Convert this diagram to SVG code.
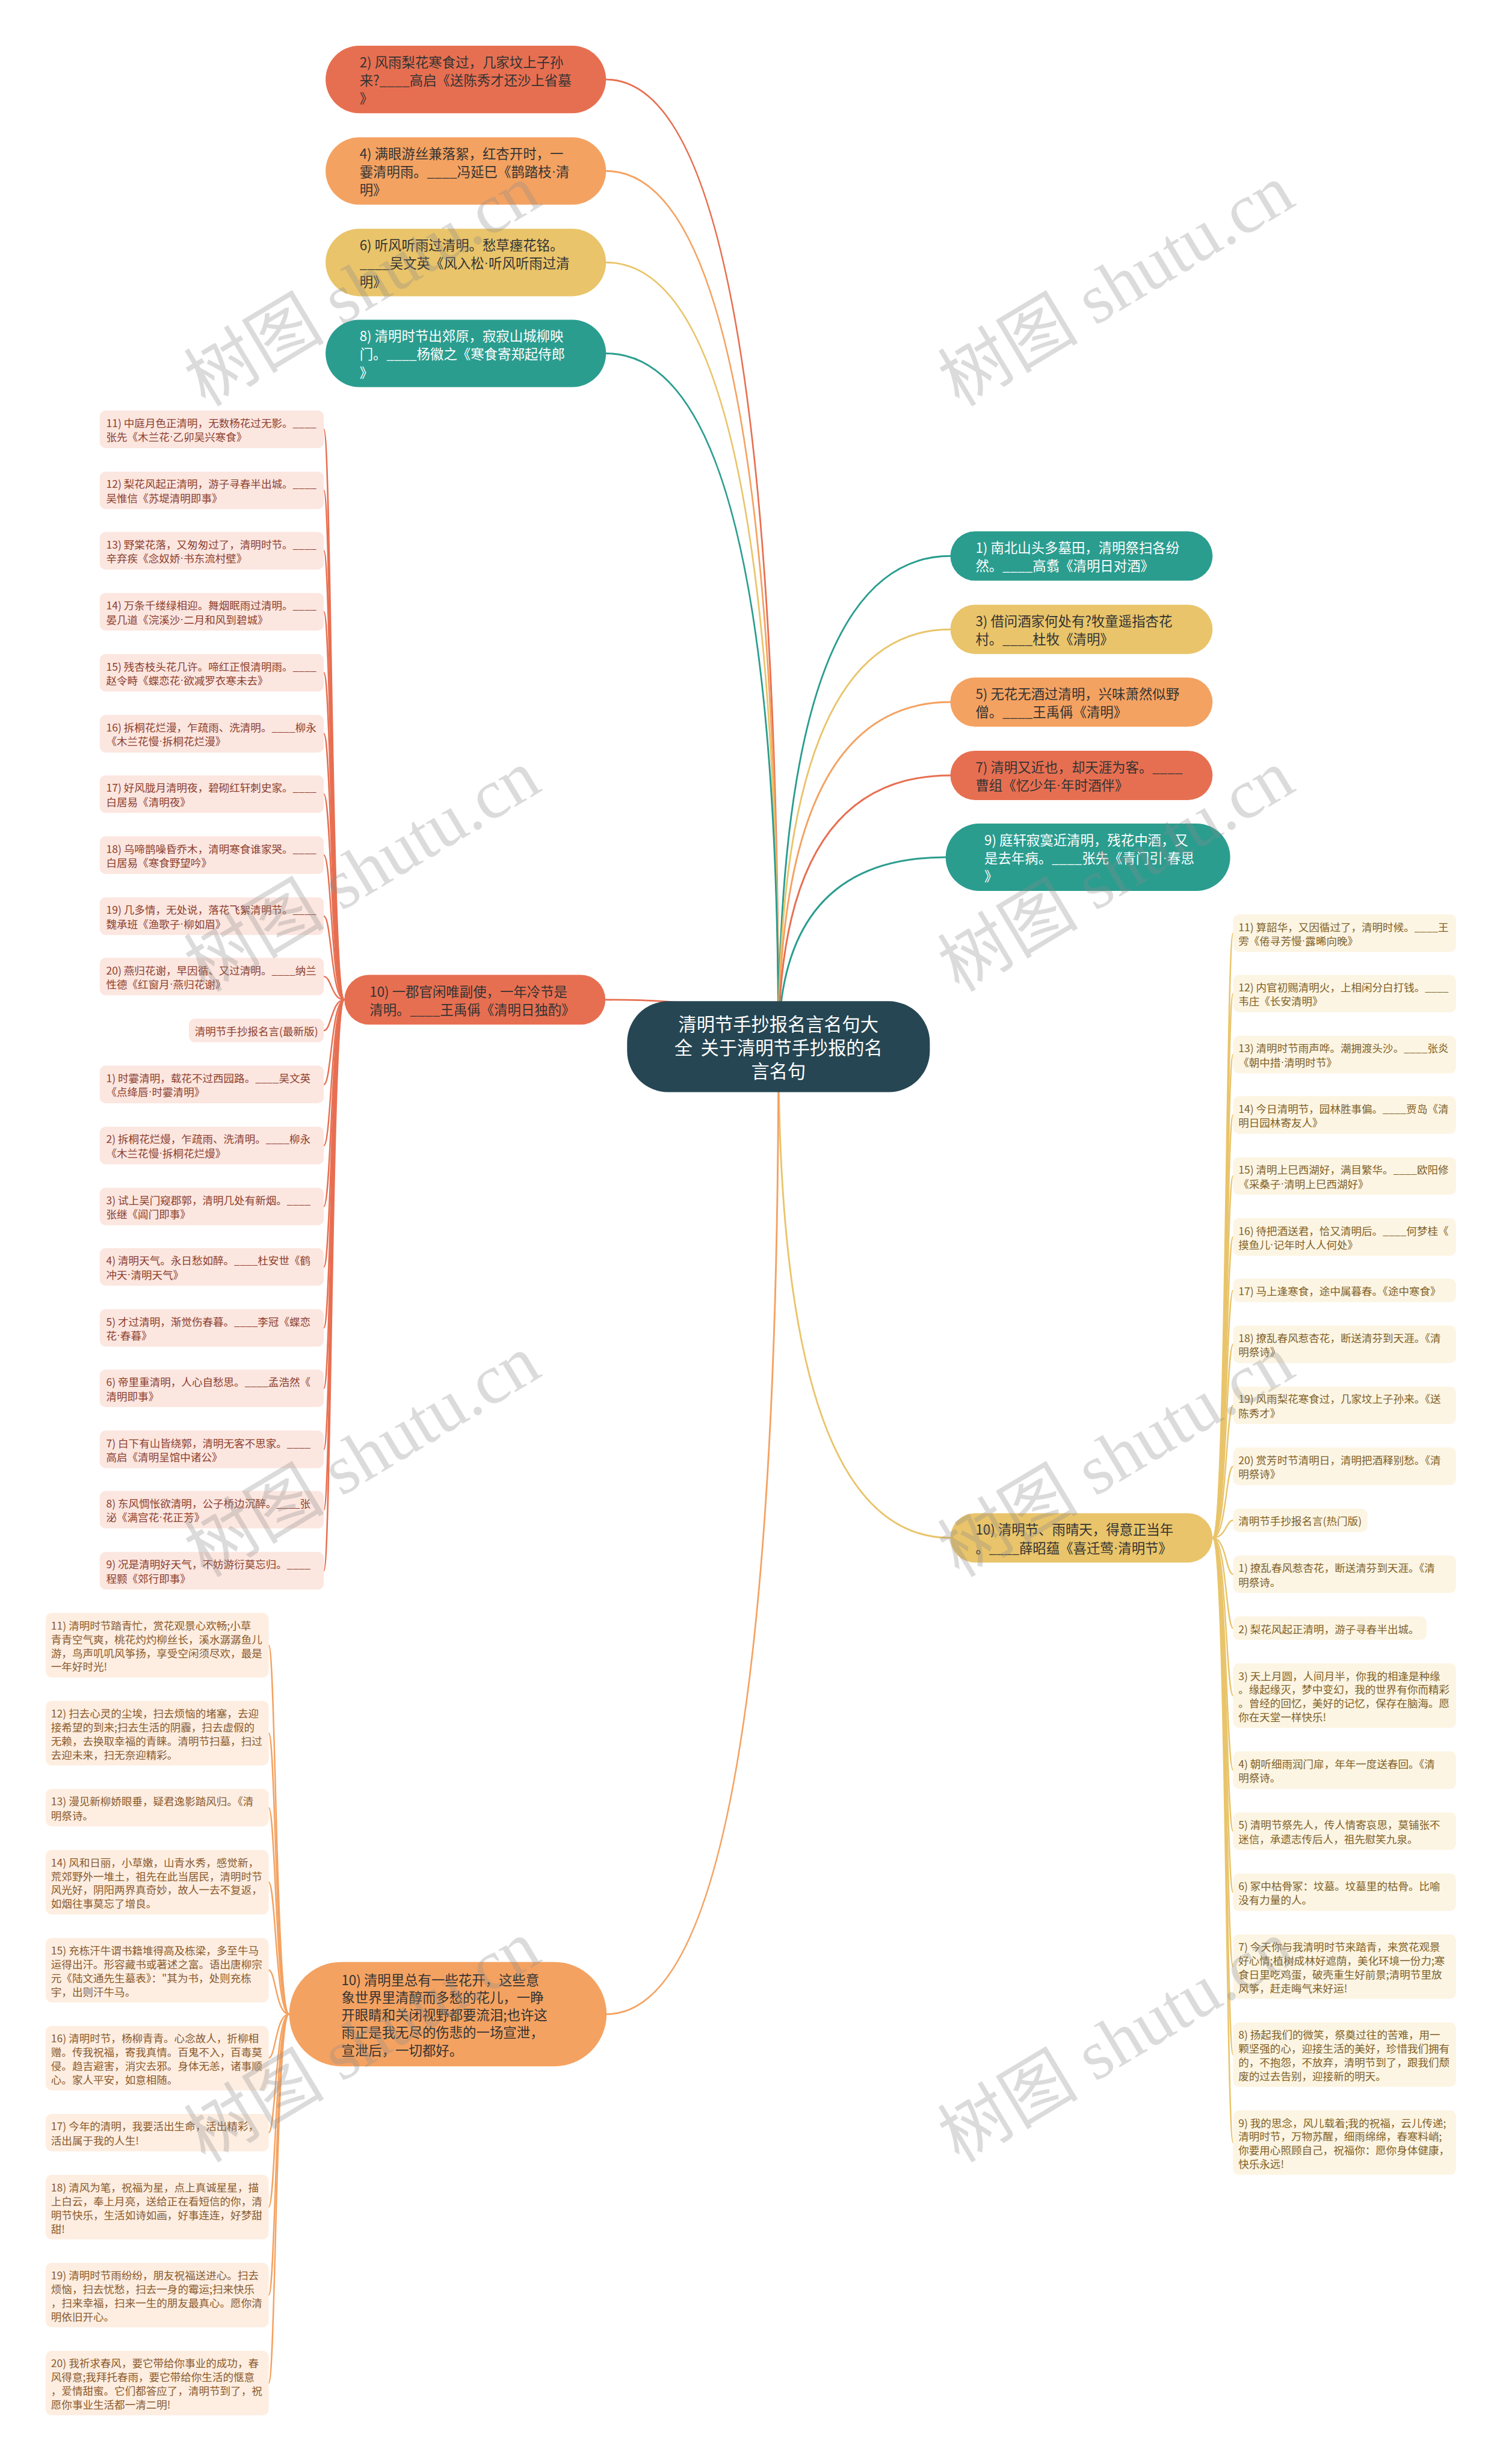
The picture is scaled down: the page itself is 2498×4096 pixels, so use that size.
<svg xmlns="http://www.w3.org/2000/svg" width="2498" height="4096" viewBox="0 0 2498 4096">
<style>
.t{font-family:"Noto Sans CJK SC","Noto Sans",sans-serif;dominant-baseline:central}
.md{font-family:"Liberation Sans","Noto Sans",sans-serif}
.l1{font-size:23px}
.rt{font-size:31px;fill:#ffffff;text-anchor:middle}
.lf{font-size:18px}
.dk{fill:#333333}
.wt{fill:#ffffff}
.red{fill:#E76F51}
.org{fill:#F4A261}
.yel{fill:#E9C46A}
.tea{fill:#2A9D8F}
.la{fill:#FCE6E0}
.lb{fill:#FDF5E3}
.lc{fill:#FEEEE1}
.ta{fill:#8c3f2f}
.tb{fill:#7f6128}
.tc{fill:#8a5a2e}
.e{fill:none;stroke-width:3;stroke-linecap:round}
.e2{fill:none;stroke-width:2.5;stroke-linecap:round}
.sr{stroke:#E76F51}
.so{stroke:#F4A261}
.sy{stroke:#E9C46A}
.st{stroke:#2A9D8F}
.wm{font-family:"Liberation Serif","Noto Sans CJK SC",serif;font-size:120px;fill:#8c8c8c;opacity:0.3}
</style>
<rect x="0" y="0" width="2498" height="4096" fill="#ffffff"/>
<g transform="scale(0.975)">
<g id="connectors">
<path class="e sr" d="M1327,1785 Q1327,135.5 1033,135.5"/>
<path class="e so" d="M1327,1785 Q1327,291.5 1033,291.5"/>
<path class="e sy" d="M1327,1785 Q1327,447.5 1033,447.5"/>
<path class="e st" d="M1327,1785 Q1327,602.5 1033,602.5"/>
<path class="e sr" d="M1327,1785 Q1327,1704.5 1032,1704.5"/>
<path class="e st" d="M1327,1785 Q1327,948 1620,948"/>
<path class="e sy" d="M1327,1785 Q1327,1073 1620,1073"/>
<path class="e so" d="M1327,1785 Q1327,1197 1620,1197"/>
<path class="e sr" d="M1327,1785 Q1327,1322 1620,1322"/>
<path class="e st" d="M1327,1785 Q1327,1461.5 1612,1461.5"/>
<path class="e sy" d="M1327,1785 Q1327,2622 1620,2622"/>
<path class="e so" d="M1327,1785 Q1327,3434 1034,3434"/>
<g id="edges-a">
<path class="e2 sr" d="M587,1704.5 C565,1704.5 565,732 552,732"/>
<path class="e2 sr" d="M587,1704.5 C565,1704.5 565,836 552,836"/>
<path class="e2 sr" d="M587,1704.5 C565,1704.5 565,939 552,939"/>
<path class="e2 sr" d="M587,1704.5 C565,1704.5 565,1043 552,1043"/>
<path class="e2 sr" d="M587,1704.5 C565,1704.5 565,1147 552,1147"/>
<path class="e2 sr" d="M587,1704.5 C565,1704.5 565,1251 552,1251"/>
<path class="e2 sr" d="M587,1704.5 C565,1704.5 565,1354 552,1354"/>
<path class="e2 sr" d="M587,1704.5 C565,1704.5 565,1458 552,1458"/>
<path class="e2 sr" d="M587,1704.5 C565,1704.5 565,1562 552,1562"/>
<path class="e2 sr" d="M587,1704.5 C565,1704.5 565,1665 552,1665"/>
<path class="e2 sr" d="M587,1704.5 C565,1704.5 565,1757 552,1757"/>
<path class="e2 sr" d="M587,1704.5 C565,1704.5 565,1849 552,1849"/>
<path class="e2 sr" d="M587,1704.5 C565,1704.5 565,1953 552,1953"/>
<path class="e2 sr" d="M587,1704.5 C565,1704.5 565,2057 552,2057"/>
<path class="e2 sr" d="M587,1704.5 C565,1704.5 565,2160 552,2160"/>
<path class="e2 sr" d="M587,1704.5 C565,1704.5 565,2264 552,2264"/>
<path class="e2 sr" d="M587,1704.5 C565,1704.5 565,2367 552,2367"/>
<path class="e2 sr" d="M587,1704.5 C565,1704.5 565,2471 552,2471"/>
<path class="e2 sr" d="M587,1704.5 C565,1704.5 565,2574 552,2574"/>
<path class="e2 sr" d="M587,1704.5 C565,1704.5 565,2678 552,2678"/>
</g>
<g id="edges-b">
<path class="e2 sy" d="M2067,2622 C2090,2622 2090,1591 2102,1591"/>
<path class="e2 sy" d="M2067,2622 C2090,2622 2090,1694 2102,1694"/>
<path class="e2 sy" d="M2067,2622 C2090,2622 2090,1798 2102,1798"/>
<path class="e2 sy" d="M2067,2622 C2090,2622 2090,1901 2102,1901"/>
<path class="e2 sy" d="M2067,2622 C2090,2622 2090,2005 2102,2005"/>
<path class="e2 sy" d="M2067,2622 C2090,2622 2090,2109 2102,2109"/>
<path class="e2 sy" d="M2067,2622 C2090,2622 2090,2200 2102,2200"/>
<path class="e2 sy" d="M2067,2622 C2090,2622 2090,2292 2102,2292"/>
<path class="e2 sy" d="M2067,2622 C2090,2622 2090,2396 2102,2396"/>
<path class="e2 sy" d="M2067,2622 C2090,2622 2090,2500 2102,2500"/>
<path class="e2 sy" d="M2067,2622 C2090,2622 2090,2592 2102,2592"/>
<path class="e2 sy" d="M2067,2622 C2090,2622 2090,2684 2102,2684"/>
<path class="e2 sy" d="M2067,2622 C2090,2622 2090,2776 2102,2776"/>
<path class="e2 sy" d="M2067,2622 C2090,2622 2090,2891 2102,2891"/>
<path class="e2 sy" d="M2067,2622 C2090,2622 2090,3018 2102,3018"/>
<path class="e2 sy" d="M2067,2622 C2090,2622 2090,3122 2102,3122"/>
<path class="e2 sy" d="M2067,2622 C2090,2622 2090,3226 2102,3226"/>
<path class="e2 sy" d="M2067,2622 C2090,2622 2090,3353 2102,3353"/>
<path class="e2 sy" d="M2067,2622 C2090,2622 2090,3503 2102,3503"/>
<path class="e2 sy" d="M2067,2622 C2090,2622 2090,3653 2102,3653"/>
</g>
<g id="edges-c">
<path class="e2 so" d="M493,3434 C470,3434 470,2805 458,2805"/>
<path class="e2 so" d="M493,3434 C470,3434 470,2955 458,2955"/>
<path class="e2 so" d="M493,3434 C470,3434 470,3082 458,3082"/>
<path class="e2 so" d="M493,3434 C470,3434 470,3209 458,3209"/>
<path class="e2 so" d="M493,3434 C470,3434 470,3359 458,3359"/>
<path class="e2 so" d="M493,3434 C470,3434 470,3509 458,3509"/>
<path class="e2 so" d="M493,3434 C470,3434 470,3636 458,3636"/>
<path class="e2 so" d="M493,3434 C470,3434 470,3763 458,3763"/>
<path class="e2 so" d="M493,3434 C470,3434 470,3913 458,3913"/>
<path class="e2 so" d="M493,3434 C470,3434 470,4063 458,4063"/>
</g>
</g>

<g id="root">
<rect x="1069" y="1707" width="516" height="155" rx="70" fill="#264653"/>
<text class="t rt" xml:space="preserve"><tspan x="1327" y="1744.5">清明节手抄报名言名句大</tspan><tspan x="1327" y="1784.5">全  关于清明节手抄报的名</tspan><tspan x="1327" y="1824.5">言名句</tspan></text>
</g>

<g id="n2"><rect class="red" x="555" y="78" width="478" height="115" rx="57.5"/><text class="t l1 dk"><tspan x="613" y="104.5">2) 风雨梨花寒食过，几家坟上子孙</tspan><tspan x="613" y="135.5">来?____高启《送陈秀才还沙上省墓</tspan><tspan x="613" y="166.5">》</tspan></text></g>
<g id="n4"><rect class="org" x="555" y="234" width="478" height="115" rx="57.5"/><text class="t l1 dk"><tspan x="613" y="260.5">4) 满眼游丝兼落絮，红杏开时，一</tspan><tspan x="613" y="291.5">霎清明雨。____冯延巳《鹊踏枝<tspan class="md">·</tspan>清</tspan><tspan x="613" y="322.5">明》</tspan></text></g>
<g id="n6"><rect class="yel" x="555" y="390" width="478" height="115" rx="57.5"/><text class="t l1 dk"><tspan x="613" y="416.5">6) 听风听雨过清明。愁草瘗花铭。</tspan><tspan x="613" y="447.5">____吴文英《风入松<tspan class="md">·</tspan>听风听雨过清</tspan><tspan x="613" y="478.5">明》</tspan></text></g>
<g id="n8"><rect class="tea" x="555" y="545" width="478" height="115" rx="57.5"/><text class="t l1 wt"><tspan x="613" y="571.5">8) 清明时节出郊原，寂寂山城柳映</tspan><tspan x="613" y="602.5">门。____杨徽之《寒食寄郑起侍郎</tspan><tspan x="613" y="633.5">》</tspan></text></g>

<g id="n1"><rect class="tea" x="1620" y="906" width="447" height="84" rx="42"/><text class="t l1 wt"><tspan x="1663" y="932.5">1) 南北山头多墓田，清明祭扫各纷</tspan><tspan x="1663" y="963.5">然。____高翥《清明日对酒》</tspan></text></g>
<g id="n3"><rect class="yel" x="1620" y="1031" width="447" height="84" rx="42"/><text class="t l1 dk"><tspan x="1663" y="1057.5">3) 借问酒家何处有?牧童遥指杏花</tspan><tspan x="1663" y="1088.5">村。____杜牧《清明》</tspan></text></g>
<g id="n5"><rect class="org" x="1620" y="1155" width="447" height="84" rx="42"/><text class="t l1 dk"><tspan x="1663" y="1181.5">5) 无花无酒过清明，兴味萧然似野</tspan><tspan x="1663" y="1212.5">僧。____王禹偁《清明》</tspan></text></g>
<g id="n7"><rect class="red" x="1620" y="1280" width="447" height="84" rx="42"/><text class="t l1 dk"><tspan x="1663" y="1306.5">7) 清明又近也，却天涯为客。____</tspan><tspan x="1663" y="1337.5">曹组《忆少年<tspan class="md">·</tspan>年时酒伴》</tspan></text></g>
<g id="n9"><rect class="tea" x="1612" y="1404" width="485" height="115" rx="57.5"/><text class="t l1 wt"><tspan x="1678" y="1430.5">9) 庭轩寂寞近清明，残花中酒，又</tspan><tspan x="1678" y="1461.5">是去年病。____张先《青门引<tspan class="md">·</tspan>春思</tspan><tspan x="1678" y="1492.5">》</tspan></text></g>

<g id="n10a"><rect class="red" x="587" y="1662" width="445" height="85" rx="42.5"/><text class="t l1 dk"><tspan x="630" y="1689">10) 一郡官闲唯副使，一年冷节是</tspan><tspan x="630" y="1720">清明。____王禹偁《清明日独酌》</tspan></text></g>
<g id="n10b"><rect class="yel" x="1620" y="2580" width="447" height="84" rx="42"/><text class="t l1 dk"><tspan x="1663" y="2606.5">10) 清明节、雨晴天，得意正当年</tspan><tspan x="1663" y="2637.5">。____薛昭蕴《喜迁莺<tspan class="md">·</tspan>清明节》</tspan></text></g>
<g id="n10c"><rect class="org" x="493" y="3345" width="541" height="178" rx="89"/><text class="t l1 dk"><tspan x="582" y="3374">10) 清明里总有一些花开，这些意</tspan><tspan x="582" y="3404">象世界里清醇而多愁的花儿，一睁</tspan><tspan x="582" y="3434">开眼睛和关闭视野都要流泪;也许这</tspan><tspan x="582" y="3464">雨正是我无尽的伤悲的一场宣泄，</tspan><tspan x="582" y="3494">宣泄后，一切都好。</tspan></text></g>

<g id="leaves-a">
<g id="a11"><rect class="la" x="170" y="700" width="382" height="64" rx="10"/><text class="t lf ta"><tspan x="181" y="720">11) 中庭月色正清明，无数杨花过无影。____</tspan><tspan x="181" y="744">张先《木兰花<tspan class="md">·</tspan>乙卯吴兴寒食》</tspan></text></g>
<g id="a12"><rect class="la" x="170" y="804" width="382" height="64" rx="10"/><text class="t lf ta"><tspan x="181" y="824">12) 梨花风起正清明，游子寻春半出城。____</tspan><tspan x="181" y="848">吴惟信《苏堤清明即事》</tspan></text></g>
<g id="a13"><rect class="la" x="170" y="907" width="382" height="64" rx="10"/><text class="t lf ta"><tspan x="181" y="927">13) 野棠花落，又匆匆过了，清明时节。____</tspan><tspan x="181" y="951">辛弃疾《念奴娇<tspan class="md">·</tspan>书东流村壁》</tspan></text></g>
<g id="a14"><rect class="la" x="170" y="1011" width="382" height="64" rx="10"/><text class="t lf ta"><tspan x="181" y="1031">14) 万条千缕绿相迎。舞烟眠雨过清明。____</tspan><tspan x="181" y="1055">晏几道《浣溪沙<tspan class="md">·</tspan>二月和风到碧城》</tspan></text></g>
<g id="a15"><rect class="la" x="170" y="1115" width="382" height="64" rx="10"/><text class="t lf ta"><tspan x="181" y="1135">15) 残杏枝头花几许。啼红正恨清明雨。____</tspan><tspan x="181" y="1159">赵令畤《蝶恋花<tspan class="md">·</tspan>欲减罗衣寒未去》</tspan></text></g>
<g id="a16"><rect class="la" x="170" y="1219" width="382" height="64" rx="10"/><text class="t lf ta"><tspan x="181" y="1239">16) 拆桐花烂漫，乍疏雨、洗清明。____柳永</tspan><tspan x="181" y="1263">《木兰花慢<tspan class="md">·</tspan>拆桐花烂漫》</tspan></text></g>
<g id="a17"><rect class="la" x="170" y="1322" width="382" height="64" rx="10"/><text class="t lf ta"><tspan x="181" y="1342">17) 好风胧月清明夜，碧砌红轩刺史家。____</tspan><tspan x="181" y="1366">白居易《清明夜》</tspan></text></g>
<g id="a18"><rect class="la" x="170" y="1426" width="382" height="64" rx="10"/><text class="t lf ta"><tspan x="181" y="1446">18) 乌啼鹊噪昏乔木，清明寒食谁家哭。____</tspan><tspan x="181" y="1470">白居易《寒食野望吟》</tspan></text></g>
<g id="a19"><rect class="la" x="170" y="1530" width="382" height="64" rx="10"/><text class="t lf ta"><tspan x="181" y="1550">19) 几多情，无处说，落花飞絮清明节。____</tspan><tspan x="181" y="1574">魏承班《渔歌子<tspan class="md">·</tspan>柳如眉》</tspan></text></g>
<g id="a20"><rect class="la" x="170" y="1633" width="382" height="64" rx="10"/><text class="t lf ta"><tspan x="181" y="1653">20) 燕归花谢，早因循、又过清明。____纳兰</tspan><tspan x="181" y="1677">性德《红窗月<tspan class="md">·</tspan>燕归花谢》</tspan></text></g>
<g id="a-new"><rect class="la" x="322" y="1737" width="230" height="40" rx="10"/><text class="t lf ta"><tspan x="332" y="1757">清明节手抄报名言(最新版)</tspan></text></g>
<g id="a01"><rect class="la" x="170" y="1817" width="382" height="64" rx="10"/><text class="t lf ta"><tspan x="181" y="1837">1) 时霎清明，载花不过西园路。____吴文英</tspan><tspan x="181" y="1861">《点绛唇<tspan class="md">·</tspan>时霎清明》</tspan></text></g>
<g id="a02"><rect class="la" x="170" y="1921" width="382" height="64" rx="10"/><text class="t lf ta"><tspan x="181" y="1941">2) 拆桐花烂熳，乍疏雨、洗清明。____柳永</tspan><tspan x="181" y="1965">《木兰花慢<tspan class="md">·</tspan>拆桐花烂熳》</tspan></text></g>
<g id="a03"><rect class="la" x="170" y="2025" width="382" height="64" rx="10"/><text class="t lf ta"><tspan x="181" y="2045">3) 试上吴门窥郡郭，清明几处有新烟。____</tspan><tspan x="181" y="2069">张继《阊门即事》</tspan></text></g>
<g id="a04"><rect class="la" x="170" y="2128" width="382" height="64" rx="10"/><text class="t lf ta"><tspan x="181" y="2148">4) 清明天气。永日愁如醉。____杜安世《鹤</tspan><tspan x="181" y="2172">冲天<tspan class="md">·</tspan>清明天气》</tspan></text></g>
<g id="a05"><rect class="la" x="170" y="2232" width="382" height="64" rx="10"/><text class="t lf ta"><tspan x="181" y="2252">5) 才过清明，渐觉伤春暮。____李冠《蝶恋</tspan><tspan x="181" y="2276">花<tspan class="md">·</tspan>春暮》</tspan></text></g>
<g id="a06"><rect class="la" x="170" y="2335" width="382" height="64" rx="10"/><text class="t lf ta"><tspan x="181" y="2355">6) 帝里重清明，人心自愁思。____孟浩然《</tspan><tspan x="181" y="2379">清明即事》</tspan></text></g>
<g id="a07"><rect class="la" x="170" y="2439" width="382" height="64" rx="10"/><text class="t lf ta"><tspan x="181" y="2459">7) 白下有山皆绕郭，清明无客不思家。____</tspan><tspan x="181" y="2483">高启《清明呈馆中诸公》</tspan></text></g>
<g id="a08"><rect class="la" x="170" y="2542" width="382" height="64" rx="10"/><text class="t lf ta"><tspan x="181" y="2562">8) 东风惆怅欲清明，公子桥边沉醉。____张</tspan><tspan x="181" y="2586">泌《满宫花<tspan class="md">·</tspan>花正芳》</tspan></text></g>
<g id="a09"><rect class="la" x="170" y="2646" width="382" height="64" rx="10"/><text class="t lf ta"><tspan x="181" y="2666">9) 况是清明好天气，不妨游衍莫忘归。____</tspan><tspan x="181" y="2690">程颢《郊行即事》</tspan></text></g>
</g>

<g id="leaves-b">
<g id="b11"><rect class="lb" x="2102" y="1559" width="380" height="64" rx="10"/><text class="t lf tb"><tspan x="2111" y="1579">11) 算韶华，又因循过了，清明时候。____王</tspan><tspan x="2111" y="1603">雱《倦寻芳慢<tspan class="md">·</tspan>露晞向晚》</tspan></text></g>
<g id="b12"><rect class="lb" x="2102" y="1662" width="380" height="64" rx="10"/><text class="t lf tb"><tspan x="2111" y="1682">12) 内官初赐清明火，上相闲分白打钱。____</tspan><tspan x="2111" y="1706">韦庄《长安清明》</tspan></text></g>
<g id="b13"><rect class="lb" x="2102" y="1766" width="380" height="64" rx="10"/><text class="t lf tb"><tspan x="2111" y="1786">13) 清明时节雨声哗。潮拥渡头沙。____张炎</tspan><tspan x="2111" y="1810">《朝中措<tspan class="md">·</tspan>清明时节》</tspan></text></g>
<g id="b14"><rect class="lb" x="2102" y="1869" width="380" height="64" rx="10"/><text class="t lf tb"><tspan x="2111" y="1889">14) 今日清明节，园林胜事偏。____贾岛《清</tspan><tspan x="2111" y="1913">明日园林寄友人》</tspan></text></g>
<g id="b15"><rect class="lb" x="2102" y="1973" width="380" height="64" rx="10"/><text class="t lf tb"><tspan x="2111" y="1993">15) 清明上巳西湖好，满目繁华。____欧阳修</tspan><tspan x="2111" y="2017">《采桑子<tspan class="md">·</tspan>清明上巳西湖好》</tspan></text></g>
<g id="b16"><rect class="lb" x="2102" y="2077" width="380" height="64" rx="10"/><text class="t lf tb"><tspan x="2111" y="2097">16) 待把酒送君，恰又清明后。____何梦桂《</tspan><tspan x="2111" y="2121">摸鱼儿<tspan class="md">·</tspan>记年时人人何处》</tspan></text></g>
<g id="b17"><rect class="lb" x="2102" y="2180" width="380" height="40" rx="10"/><text class="t lf tb"><tspan x="2111" y="2200">17) 马上逢寒食，途中属暮春。《途中寒食》</tspan></text></g>
<g id="b18"><rect class="lb" x="2102" y="2260" width="380" height="64" rx="10"/><text class="t lf tb"><tspan x="2111" y="2280">18) 撩乱春风惹杏花，断送清芬到天涯。《清</tspan><tspan x="2111" y="2304">明祭诗》</tspan></text></g>
<g id="b19"><rect class="lb" x="2102" y="2364" width="380" height="64" rx="10"/><text class="t lf tb"><tspan x="2111" y="2384">19) 风雨梨花寒食过，几家坟上子孙来。《送</tspan><tspan x="2111" y="2408">陈秀才》</tspan></text></g>
<g id="b20"><rect class="lb" x="2102" y="2468" width="380" height="64" rx="10"/><text class="t lf tb"><tspan x="2111" y="2488">20) 赏芳时节清明日，清明把酒释别愁。《清</tspan><tspan x="2111" y="2512">明祭诗》</tspan></text></g>
<g id="b-hot"><rect class="lb" x="2102" y="2572" width="229" height="40" rx="10"/><text class="t lf tb"><tspan x="2111" y="2592">清明节手抄报名言(热门版)</tspan></text></g>
<g id="b01"><rect class="lb" x="2102" y="2652" width="380" height="64" rx="10"/><text class="t lf tb"><tspan x="2111" y="2672">1) 撩乱春风惹杏花，断送清芬到天涯。《清</tspan><tspan x="2111" y="2696">明祭诗。</tspan></text></g>
<g id="b02"><rect class="lb" x="2102" y="2756" width="330" height="40" rx="10"/><text class="t lf tb"><tspan x="2111" y="2776">2) 梨花风起正清明，游子寻春半出城。</tspan></text></g>
<g id="b03"><rect class="lb" x="2102" y="2836" width="380" height="110" rx="10"/><text class="t lf tb"><tspan x="2111" y="2856">3) 天上月圆，人间月半，你我的相逢是种缘</tspan><tspan x="2111" y="2879.5">。缘起缘灭，梦中变幻，我的世界有你而精彩</tspan><tspan x="2111" y="2903">。曾经的回忆，美好的记忆，保存在脑海。愿</tspan><tspan x="2111" y="2926.5">你在天堂一样快乐!</tspan></text></g>
<g id="b04"><rect class="lb" x="2102" y="2986" width="380" height="64" rx="10"/><text class="t lf tb"><tspan x="2111" y="3006">4) 朝听细雨润门扉，年年一度送春回。《清</tspan><tspan x="2111" y="3030">明祭诗。</tspan></text></g>
<g id="b05"><rect class="lb" x="2102" y="3090" width="380" height="64" rx="10"/><text class="t lf tb"><tspan x="2111" y="3110">5) 清明节祭先人，传人情寄哀思，莫铺张不</tspan><tspan x="2111" y="3134">迷信，承遗志传后人，祖先慰笑九泉。</tspan></text></g>
<g id="b06"><rect class="lb" x="2102" y="3194" width="380" height="64" rx="10"/><text class="t lf tb"><tspan x="2111" y="3214">6) 冢中枯骨冢：坟墓。坟墓里的枯骨。比喻</tspan><tspan x="2111" y="3238">没有力量的人。</tspan></text></g>
<g id="b07"><rect class="lb" x="2102" y="3298" width="380" height="110" rx="10"/><text class="t lf tb"><tspan x="2111" y="3318">7) 今天你与我清明时节来踏青，来赏花观景</tspan><tspan x="2111" y="3341.5">好心情;植树成林好遮荫，美化环境一份力;寒</tspan><tspan x="2111" y="3365">食日里吃鸡蛋，破壳重生好前景;清明节里放</tspan><tspan x="2111" y="3388.5">风筝，赶走晦气来好运!</tspan></text></g>
<g id="b08"><rect class="lb" x="2102" y="3448" width="380" height="110" rx="10"/><text class="t lf tb"><tspan x="2111" y="3468">8) 扬起我们的微笑，祭奠过往的苦难，用一</tspan><tspan x="2111" y="3491.5">颗坚强的心，迎接生活的美好，珍惜我们拥有</tspan><tspan x="2111" y="3515">的，不抱怨，不放弃，清明节到了，跟我们颓</tspan><tspan x="2111" y="3538.5">废的过去告别，迎接新的明天。</tspan></text></g>
<g id="b09"><rect class="lb" x="2102" y="3598" width="380" height="110" rx="10"/><text class="t lf tb"><tspan x="2111" y="3618">9) 我的思念，风儿载着;我的祝福，云儿传递;</tspan><tspan x="2111" y="3641.5">清明时节，万物苏醒，细雨绵绵，春寒料峭;</tspan><tspan x="2111" y="3665">你要用心照顾自己，祝福你：愿你身体健康，</tspan><tspan x="2111" y="3688.5">快乐永远!</tspan></text></g>
</g>

<g id="leaves-c">
<g id="c11"><rect class="lc" x="78" y="2750" width="380" height="110" rx="10"/><text class="t lf tc"><tspan x="87" y="2770">11) 清明时节踏青忙，赏花观景心欢畅;小草</tspan><tspan x="87" y="2793.5">青青空气爽，桃花灼灼柳丝长，溪水潺潺鱼儿</tspan><tspan x="87" y="2817">游，鸟声叽叽风筝扬，享受空闲须尽欢，最是</tspan><tspan x="87" y="2840.5">一年好时光!</tspan></text></g>
<g id="c12"><rect class="lc" x="78" y="2900" width="380" height="110" rx="10"/><text class="t lf tc"><tspan x="87" y="2920">12) 扫去心灵的尘埃，扫去烦恼的堵塞，去迎</tspan><tspan x="87" y="2943.5">接希望的到来;扫去生活的阴霾，扫去虚假的</tspan><tspan x="87" y="2967">无赖，去换取幸福的青睐。清明节扫墓，扫过</tspan><tspan x="87" y="2990.5">去迎未来，扫无奈迎精彩。</tspan></text></g>
<g id="c13"><rect class="lc" x="78" y="3050" width="380" height="64" rx="10"/><text class="t lf tc"><tspan x="87" y="3070">13) 漫见新柳娇眼垂，疑君逸影踏风归。《清</tspan><tspan x="87" y="3094">明祭诗。</tspan></text></g>
<g id="c14"><rect class="lc" x="78" y="3154" width="380" height="110" rx="10"/><text class="t lf tc"><tspan x="87" y="3174">14) 风和日丽，小草嫩，山青水秀，感觉新，</tspan><tspan x="87" y="3197.5">荒郊野外一堆土，祖先在此当居民，清明时节</tspan><tspan x="87" y="3221">风光好，阴阳两界真奇妙，故人一去不复返，</tspan><tspan x="87" y="3244.5">如烟往事莫忘了增良。</tspan></text></g>
<g id="c15"><rect class="lc" x="78" y="3304" width="380" height="110" rx="10"/><text class="t lf tc"><tspan x="87" y="3324">15) 充栋汗牛谓书籍堆得高及栋梁，多至牛马</tspan><tspan x="87" y="3347.5">运得出汗。形容藏书或著述之富。语出唐柳宗</tspan><tspan x="87" y="3371">元《陆文通先生墓表》："其为书，处则充栋</tspan><tspan x="87" y="3394.5">宇，出则汗牛马。</tspan></text></g>
<g id="c16"><rect class="lc" x="78" y="3454" width="380" height="110" rx="10"/><text class="t lf tc"><tspan x="87" y="3474">16) 清明时节，杨柳青青。心念故人，折柳相</tspan><tspan x="87" y="3497.5">赠。传我祝福，寄我真情。百鬼不入，百毒莫</tspan><tspan x="87" y="3521">侵。趋吉避害，消灾去邪。身体无恙，诸事顺</tspan><tspan x="87" y="3544.5">心。家人平安，如意相随。</tspan></text></g>
<g id="c17"><rect class="lc" x="78" y="3604" width="380" height="64" rx="10"/><text class="t lf tc"><tspan x="87" y="3624">17) 今年的清明，我要活出生命，活出精彩，</tspan><tspan x="87" y="3648">活出属于我的人生!</tspan></text></g>
<g id="c18"><rect class="lc" x="78" y="3708" width="380" height="110" rx="10"/><text class="t lf tc"><tspan x="87" y="3728">18) 清风为笔，祝福为星，点上真诚星星，描</tspan><tspan x="87" y="3751.5">上白云，奉上月亮，送给正在看短信的你，清</tspan><tspan x="87" y="3775">明节快乐，生活如诗如画，好事连连，好梦甜</tspan><tspan x="87" y="3798.5">甜!</tspan></text></g>
<g id="c19"><rect class="lc" x="78" y="3858" width="380" height="110" rx="10"/><text class="t lf tc"><tspan x="87" y="3878">19) 清明时节雨纷纷，朋友祝福送进心。扫去</tspan><tspan x="87" y="3901.5">烦恼，扫去忧愁，扫去一身的霉运;扫来快乐</tspan><tspan x="87" y="3925">，扫来幸福，扫来一生的朋友最真心。愿你清</tspan><tspan x="87" y="3948.5">明依旧开心。</tspan></text></g>
<g id="c20"><rect class="lc" x="78" y="4008" width="380" height="110" rx="10"/><text class="t lf tc"><tspan x="87" y="4028">20) 我祈求春风，要它带给你事业的成功，春</tspan><tspan x="87" y="4051.5">风得意;我拜托春雨，要它带给你生活的惬意</tspan><tspan x="87" y="4075">，爱情甜蜜。它们都答应了，清明节到了，祝</tspan><tspan x="87" y="4098.5">愿你事业生活都一清二明!</tspan></text></g>
</g>

<g id="watermark">
<text class="wm" x="350" y="695" transform="rotate(-31 350 695)">树图 shutu.cn</text>
<text class="wm" x="1635" y="695" transform="rotate(-31 1635 695)">树图 shutu.cn</text>
<text class="wm" x="350" y="1693" transform="rotate(-31 350 1693)">树图 shutu.cn</text>
<text class="wm" x="1635" y="1693" transform="rotate(-31 1635 1693)">树图 shutu.cn</text>
<text class="wm" x="350" y="2691" transform="rotate(-31 350 2691)">树图 shutu.cn</text>
<text class="wm" x="1635" y="2691" transform="rotate(-31 1635 2691)">树图 shutu.cn</text>
<text class="wm" x="350" y="3689" transform="rotate(-31 350 3689)">树图 shutu.cn</text>
<text class="wm" x="1635" y="3689" transform="rotate(-31 1635 3689)">树图 shutu.cn</text>
</g>
</g>
</svg>
